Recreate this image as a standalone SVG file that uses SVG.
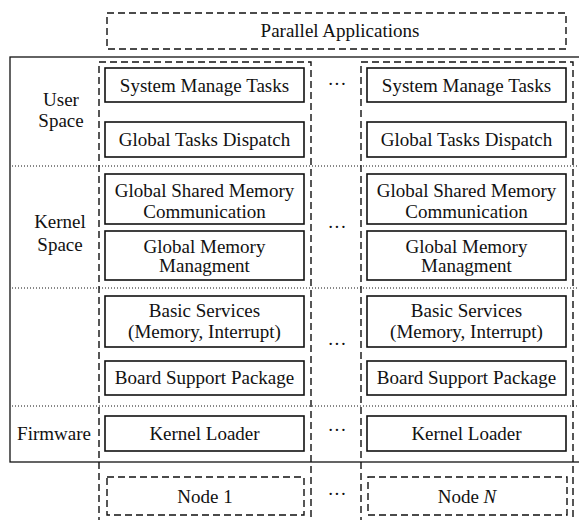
<svg xmlns="http://www.w3.org/2000/svg" width="579" height="520" viewBox="0 0 579 520" font-family="'Liberation Serif', 'Times New Roman', Times, 'DejaVu Serif', serif">
  <style>
    text { font-family: "Liberation Serif", "Times New Roman", Times, "DejaVu Serif", serif; font-size: 19px; fill: #111; text-anchor: middle; }
    .box { fill: #fff; stroke: #111; stroke-width: 1.6; }
    .dash { fill: none; stroke: #111; stroke-width: 1.4; stroke-dasharray: 7 4; }
    .dot { fill: none; stroke: #111; stroke-width: 1; stroke-dasharray: 1 2; }
    .frame { fill: none; stroke: #111; stroke-width: 1.3; }
  </style>

  <!-- outer system frame (right edge runs off the canvas) -->
  <rect class="frame" x="10" y="57" width="572" height="405"/>

  <!-- layer separators -->
  <g id="separators">
    <line class="dot" x1="12" y1="166" x2="579" y2="166"/>
    <line class="dot" x1="12" y1="288" x2="579" y2="288"/>
    <line class="dot" x1="12" y1="406" x2="579" y2="406"/>
  </g>

  <!-- node columns -->
  <rect class="dash" x="99" y="62" width="212" height="470"/>
  <rect class="dash" x="361" y="62" width="212" height="470"/>

  <g id="parallel-apps">
    <rect class="dash" x="107" y="13" width="459" height="36"/>
    <text x="340" y="37">Parallel Applications</text>
  </g>

  <!-- layer labels -->
  <g id="labels">
    <text x="61" y="106">User</text>
    <text x="61" y="127">Space</text>
    <text x="60" y="228">Kernel</text>
    <text x="60" y="251">Space</text>
    <text x="54" y="440">Firmware</text>
  </g>

  <!-- node 1 stack -->
  <g id="n1-sys"><rect class="box" x="105" y="68" width="199" height="34"/><text x="204.5" y="92">System Manage Tasks</text></g>
  <g id="n1-dispatch"><rect class="box" x="105" y="122" width="199" height="35"/><text x="204.5" y="146">Global Tasks Dispatch</text></g>
  <g id="n1-gsm"><rect class="box" x="105" y="174" width="199" height="50"/><text x="204.5" y="197">Global Shared Memory</text><text x="204.5" y="218">Communication</text></g>
  <g id="n1-gmm"><rect class="box" x="105" y="231" width="199" height="49"/><text x="204.5" y="253">Global Memory</text><text x="204.5" y="272">Managment</text></g>
  <g id="n1-basic"><rect class="box" x="105" y="296" width="199" height="51"/><text x="204.5" y="316.5">Basic Services</text><text x="204.5" y="338">(Memory, Interrupt)</text></g>
  <g id="n1-bsp"><rect class="box" x="105" y="361" width="199" height="34"/><text x="204.5" y="383.5">Board Support Package</text></g>
  <g id="n1-loader"><rect class="box" x="105" y="416" width="199" height="35"/><text x="204.5" y="440">Kernel Loader</text></g>
  <g id="node1"><rect class="dash" x="107" y="477" width="197" height="38"/><text x="205" y="503">Node 1</text></g>

  <!-- node N stack -->
  <g id="nN-sys"><rect class="box" x="367" y="68" width="199" height="34"/><text x="466.5" y="92">System Manage Tasks</text></g>
  <g id="nN-dispatch"><rect class="box" x="367" y="122" width="199" height="35"/><text x="466.5" y="146">Global Tasks Dispatch</text></g>
  <g id="nN-gsm"><rect class="box" x="367" y="174" width="199" height="50"/><text x="466.5" y="197">Global Shared Memory</text><text x="466.5" y="218">Communication</text></g>
  <g id="nN-gmm"><rect class="box" x="367" y="231" width="199" height="49"/><text x="466.5" y="253">Global Memory</text><text x="466.5" y="272">Managment</text></g>
  <g id="nN-basic"><rect class="box" x="367" y="296" width="199" height="51"/><text x="466.5" y="316.5">Basic Services</text><text x="466.5" y="338">(Memory, Interrupt)</text></g>
  <g id="nN-bsp"><rect class="box" x="367" y="361" width="199" height="34"/><text x="466.5" y="383.5">Board Support Package</text></g>
  <g id="nN-loader"><rect class="box" x="367" y="416" width="199" height="35"/><text x="466.5" y="440">Kernel Loader</text></g>
  <g id="nodeN"><rect class="dash" x="368" y="477" width="199" height="38"/><text x="467" y="503">Node <tspan font-style="italic">N</tspan></text></g>

  <!-- ellipses between columns -->
  <g id="ellipses">
    <text x="337" y="90">···</text>
    <text x="337" y="233">···</text>
    <text x="337" y="350">···</text>
    <text x="337" y="436">···</text>
    <text x="337" y="500">···</text>
  </g>
</svg>
